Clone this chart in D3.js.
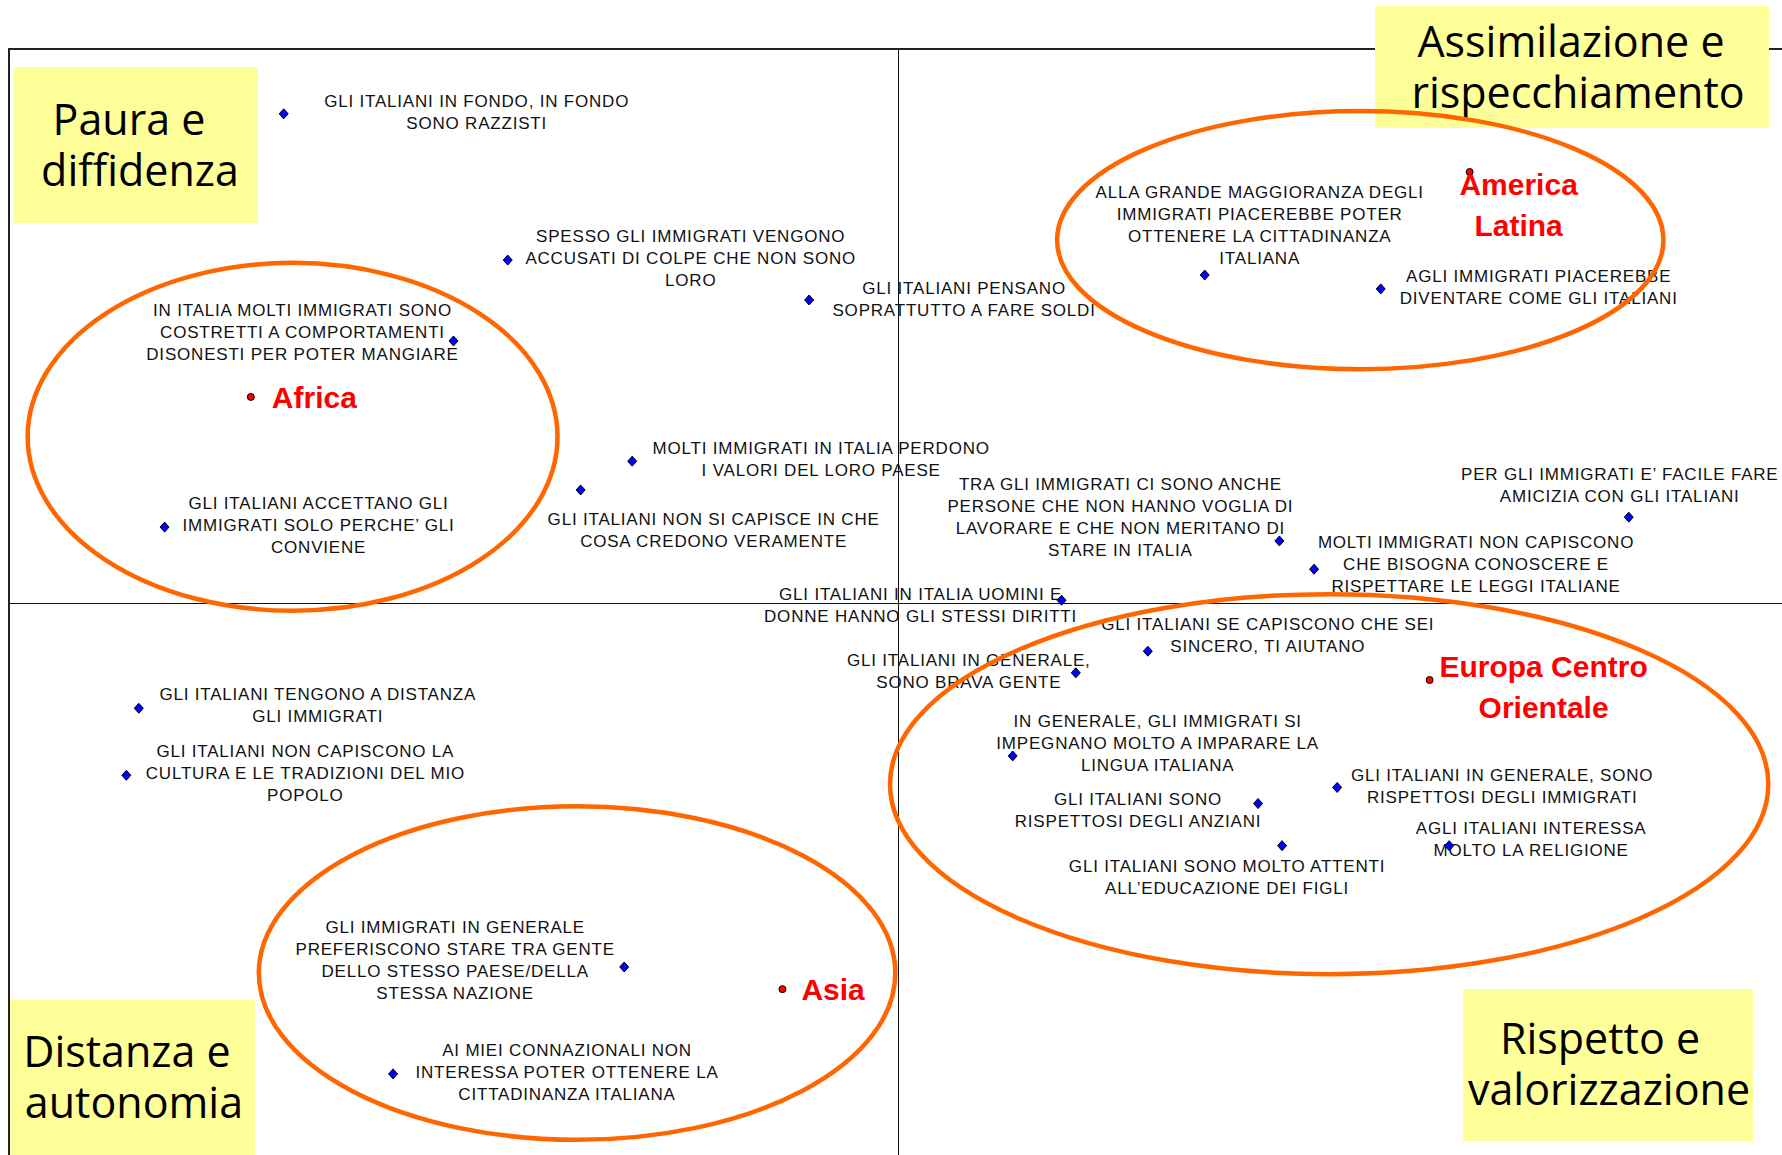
<!DOCTYPE html>
<html>
<head>
<meta charset="utf-8">
<script src="https://cdn.jsdelivr.net/npm/d3@7"></script>
<style>
  body { margin: 0; background: #fff; }
  svg { display: block; }
</style>
</head>
<body>
<svg id="chart"></svg>
<script>
// statements (blue points)
const statements = [
  "GLI ITALIANI IN FONDO, IN FONDO|SONO RAZZISTI",
  "SPESSO GLI IMMIGRATI VENGONO|ACCUSATI DI COLPE CHE NON SONO|LORO",
  "GLI ITALIANI PENSANO|SOPRATTUTTO A FARE SOLDI",
  "IN ITALIA MOLTI IMMIGRATI SONO|COSTRETTI A COMPORTAMENTI|DISONESTI PER POTER MANGIARE",
  "MOLTI IMMIGRATI IN ITALIA PERDONO|I VALORI DEL LORO PAESE",
  "GLI ITALIANI NON SI CAPISCE IN CHE|COSA CREDONO VERAMENTE",
  "GLI ITALIANI ACCETTANO GLI|IMMIGRATI SOLO PERCHE’ GLI|CONVIENE",
  "ALLA GRANDE MAGGIORANZA DEGLI|IMMIGRATI PIACEREBBE POTER|OTTENERE LA CITTADINANZA|ITALIANA",
  "AGLI IMMIGRATI PIACEREBBE|DIVENTARE COME GLI ITALIANI",
  "TRA GLI IMMIGRATI CI SONO ANCHE|PERSONE CHE NON HANNO VOGLIA DI|LAVORARE E CHE NON MERITANO DI|STARE IN ITALIA",
  "PER GLI IMMIGRATI E’ FACILE FARE|AMICIZIA CON GLI ITALIANI",
  "MOLTI IMMIGRATI NON CAPISCONO|CHE BISOGNA CONOSCERE E|RISPETTARE LE LEGGI ITALIANE",
  "GLI ITALIANI IN ITALIA UOMINI E|DONNE HANNO GLI STESSI DIRITTI",
  "GLI ITALIANI SE CAPISCONO CHE SEI|SINCERO, TI AIUTANO",
  "GLI ITALIANI IN GENERALE,|SONO BRAVA GENTE",
  "IN GENERALE, GLI IMMIGRATI SI|IMPEGNANO MOLTO A IMPARARE LA|LINGUA ITALIANA",
  "GLI ITALIANI SONO|RISPETTOSI DEGLI ANZIANI",
  "GLI ITALIANI IN GENERALE, SONO|RISPETTOSI DEGLI IMMIGRATI",
  "GLI ITALIANI SONO MOLTO ATTENTI|ALL’EDUCAZIONE DEI FIGLI",
  "AGLI ITALIANI INTERESSA|MOLTO LA RELIGIONE",
  "GLI ITALIANI TENGONO A DISTANZA|GLI IMMIGRATI",
  "GLI ITALIANI NON CAPISCONO LA|CULTURA E LE TRADIZIONI DEL MIO|POPOLO",
  "GLI IMMIGRATI IN GENERALE|PREFERISCONO STARE TRA GENTE|DELLO STESSO PAESE/DELLA|STESSA NAZIONE",
  "AI MIEI CONNAZIONALI NON|INTERESSA POTER OTTENERE LA|CITTADINANZA ITALIANA"
];
const statementX = [-0.691, -0.439, -0.100, -0.500, -0.299, -0.357, -0.825, 0.345, 0.543, 0.429, 0.822, 0.468,
  0.184, 0.281, 0.200, 0.129, 0.405, 0.494, 0.432, 0.620, -0.854, -0.868, -0.308, -0.568];
const statementY = [0.883, 0.619, 0.547, 0.473, 0.256, 0.204, 0.137, 0.592, 0.567, 0.112, 0.155, 0.061,
  0.005, -0.087, -0.126, -0.276, -0.362, -0.333, -0.438, -0.438, -0.190, -0.311, -0.657, -0.850];

// regions of origin (red points) and their clusters
const regions = ["Africa", "America|Latina", "Europa Centro|Orientale", "Asia"];
const regionX = [-0.728, 0.643, 0.598, -0.130];
const regionY = [0.372, 0.778, -0.139, -0.697];
const clusterCX = [-0.681, 0.520, 0.485, -0.361];
const clusterCY = [0.300, 0.655, -0.327, -0.668];
const clusterRX = [0.298, 0.341, 0.494, 0.358];
const clusterRY = [0.314, 0.233, 0.343, 0.301];

const quadrants = ["Paura e|diffidenza", "Assimilazione e|rispecchiamento", "Distanza e|autonomia", "Rispetto e|valorizzazione"];

// label layout (pixel offsets from the point to the first line centre)
const labelOffsets = [[193, -13], [183, -24], [155, -12], [-151, -31], [189, -13], [133, 29], [154, -24],
  [55, -83], [158, -13], [-159, -57], [-9, -43], [162, -27], [-141, -6], [120, -27], [-107, -13],
  [145, -35], [-120, -5], [165, -12], [-55, 20], [82, -18], [179, -14], [179, -24], [-169, -40], [174, -24]];
const regionLabelLayout = [
  { dx: 21, dy: 0, anchor: "start" },
  { dx: 49, dy: 12, anchor: "middle" },
  { dx: 114, dy: -14, anchor: "middle" },
  { dx: 19, dy: 0, anchor: "start" }
];
const quadrantBoxes = [
  { x: 13, y: 67, w: 245, h: 156, cx: [129, 140], b: 135 },
  { x: 1375, y: 6, w: 394, h: 122, cx: [1571, 1578], b: 57 },
  { x: 10, y: 1000, w: 245, h: 160, cx: [127, 134], b: 1067 },
  { x: 1463, y: 989, w: 290, h: 152, cx: [1600, 1609], b: 1054 }
];

const width = 1782;
const height = 1155;

const svg = d3.select("#chart").attr("width", width).attr("height", height);

const x = d3.scaleLinear().domain([-1, 1]).range([9, 1787]);
const y = d3.scaleLinear().domain([-1, 1]).range([1157, 49]);

// frame
svg.append("rect")
  .attr("x", x(-1)).attr("y", y(1))
  .attr("width", x(1) - x(-1)).attr("height", y(-1) - y(1))
  .attr("fill", "none").attr("stroke", "#222").attr("stroke-width", 2);

// axes through the origin
svg.append("g")
  .attr("transform", `translate(0,${y(0)})`)
  .call(d3.axisBottom(x).tickValues([]).tickSizeOuter(0))
  .attr("color", "#111");
svg.append("g")
  .attr("transform", `translate(${x(0)},0)`)
  .call(d3.axisLeft(y).tickValues([]).tickSizeOuter(0))
  .attr("color", "#111");

// statement labels
const labels = svg.append("g")
  .attr("font-family", "'Liberation Sans', Arial, sans-serif")
  .attr("font-size", 17)
  .attr("letter-spacing", 0.8)
  .attr("fill", "#111")
  .attr("text-anchor", "middle");
statements.forEach((s, i) => {
  const t = labels.append("text");
  s.split("|").forEach((line, j) => {
    t.append("tspan")
      .attr("x", x(statementX[i]) + labelOffsets[i][0])
      .attr("y", y(statementY[i]) + labelOffsets[i][1] + 6 + j * 22)
      .text(line);
  });
});

// quadrant boxes
quadrants.forEach((q, i) => {
  const b = quadrantBoxes[i];
  svg.append("rect")
    .attr("x", b.x).attr("y", b.y).attr("width", b.w).attr("height", b.h)
    .attr("fill", "#ffff99");
  const t = svg.append("text")
    .attr("font-family", "'Open Sans', sans-serif")
    .attr("font-size", 43)
    .attr("fill", "#000")
    .attr("text-anchor", "middle");
  q.split("|").forEach((line, j) => {
    t.append("tspan").attr("x", b.cx[j]).attr("y", b.b + j * 51).text(line);
  });
});

// statement points (diamonds)
const diamond = "M0,-5L4.5,0L0,5L-4.5,0Z";
svg.append("g")
  .selectAll("path")
  .data(statements)
  .join("path")
  .attr("d", diamond)
  .attr("transform", (d, i) => `translate(${x(statementX[i])},${y(statementY[i])})`)
  .attr("fill", "#0000ff")
  .attr("stroke", "#000")
  .attr("stroke-width", 1);

// region points and labels
svg.append("g")
  .selectAll("circle")
  .data(regions)
  .join("circle")
  .attr("cx", (d, i) => x(regionX[i]))
  .attr("cy", (d, i) => y(regionY[i]))
  .attr("r", 3.5)
  .attr("fill", "#ff0000")
  .attr("stroke", "#000")
  .attr("stroke-width", 1);

regions.forEach((r, i) => {
  const l = regionLabelLayout[i];
  const t = svg.append("text")
    .attr("font-family", "'Liberation Sans', Arial, sans-serif")
    .attr("font-weight", "bold")
    .attr("font-size", 30)
    .attr("fill", "#ff0000")
    .attr("text-anchor", l.anchor);
  r.split("|").forEach((line, j) => {
    t.append("tspan")
      .attr("x", x(regionX[i]) + l.dx)
      .attr("y", y(regionY[i]) + l.dy + 11 + j * 41)
      .text(line);
  });
});

// clusters
svg.append("g")
  .selectAll("ellipse")
  .data(regions)
  .join("ellipse")
  .attr("cx", (d, i) => x(clusterCX[i]))
  .attr("cy", (d, i) => y(clusterCY[i]))
  .attr("rx", (d, i) => x(clusterRX[i]) - x(0))
  .attr("ry", (d, i) => y(0) - y(clusterRY[i]))
  .attr("fill", "none")
  .attr("stroke", "#ff6600")
  .attr("stroke-width", 4.5);
</script>
</body>
</html>
